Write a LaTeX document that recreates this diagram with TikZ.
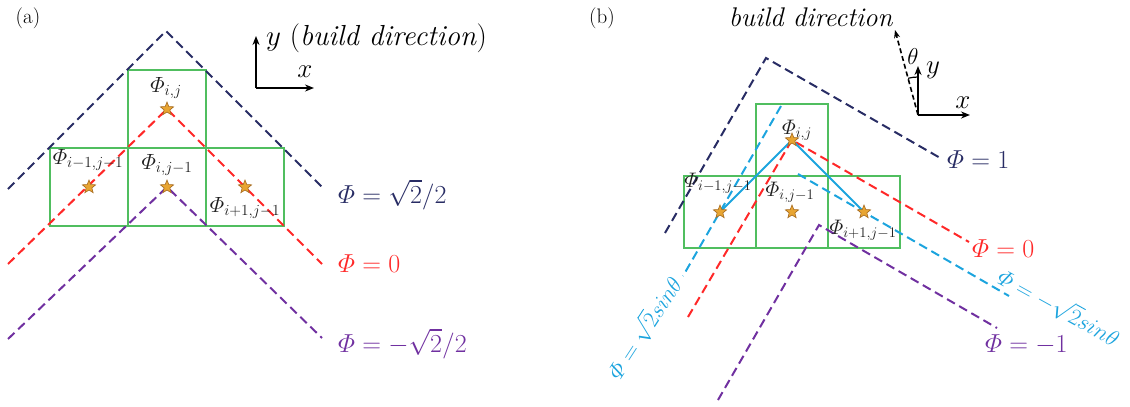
\RequirePackage{fix-cm}
\documentclass[tikz,border=0pt]{standalone}
\usepackage{amsmath}
\usetikzlibrary{shapes.geometric,arrows.meta}
\definecolor{navyc}{RGB}{40,44,100}
\definecolor{redc}{RGB}{255,40,40}
\definecolor{purplec}{RGB}{112,48,160}
\definecolor{bluec}{RGB}{28,164,222}
\definecolor{greenc}{RGB}{80,190,95}
\definecolor{starfill}{RGB}{232,165,50}
\definecolor{stardraw}{RGB}{165,105,30}
\definecolor{labc}{RGB}{30,30,30}
\tikzset{
  lvl/.style={line width=2pt, dash pattern=on 9pt off 5pt},
  cellbox/.style={draw=greenc, line width=1.4pt, minimum size=#1, inner sep=0pt},
  starn/.style={star, star points=5, star point ratio=2.3, minimum size=14pt, inner sep=0pt, fill=starfill, draw=stardraw, line width=0.6pt},
  sublbl/.style={text=labc, font=\fontsize{#1}{#1}\selectfont, inner sep=0pt},
  biglbl/.style={font=\fontsize{26}{26}\selectfont, inner sep=0pt, anchor=base west},
  axisarrow/.style={line width=1.8pt, -{Stealth[length=9pt,width=7pt]}},
  axlbl/.style={font=\fontsize{27}{27}\selectfont, inner sep=0pt},
}
\begin{document}
\begin{tikzpicture}[x=1pt,y=-1pt]
\useasboundingbox (0,0) rectangle (1130,407);

% ================= panel (a) =================
\node[font=\fontsize{21}{21}\selectfont, inner sep=0pt] (tagA) at (28,18) {(a)};

\node[cellbox=78pt] (aT) at (167,109) {};
\node[cellbox=78pt] (aL) at (89,187) {};
\node[cellbox=78pt] (aC) at (167,187) {};
\node[cellbox=78pt] (aR) at (245,187) {};

\coordinate (aNl) at (8,189);
\coordinate (aNa) at (166,31);
\coordinate (aNr) at (322,187);
\coordinate (aRl) at (8,264);
\coordinate (aRr) at (322,264);
\coordinate (aPl) at (8,339);
\coordinate (aPr) at (322,338);

\draw[lvl, navyc] (aNl) -- (aNa) -- (aNr);
\draw[lvl, redc] (aRl) -- (aT.center) -- (aRr);
\draw[lvl, purplec] (aPl) -- (aC.center) -- (aPr);

\node[starn] (saT) at (aT.center) {};
\node[starn] (saL) at (aL.center) {};
\node[starn] (saC) at (aC.center) {};
\node[starn] (saR) at (aR.center) {};

\node[sublbl=22] (laT) at (166,88) {$\varPhi_{i,j}$};
\node[sublbl=22] (laL) at (88,160) {$\varPhi_{i-1,j-1}$};
\node[sublbl=22] (laC) at (167,165) {$\varPhi_{i,j-1}$};
\node[sublbl=22] (laR) at (245,208) {$\varPhi_{i+1,j-1}$};

\node[biglbl, text=navyc] (qaN) at (338,203) {$\varPhi = \sqrt{2}/2$};
\node[biglbl, text=redc] (qaR) at (338,272) {$\varPhi = 0$};
\node[biglbl, text=purplec] (qaP) at (338,352) {$\varPhi = -\sqrt{2}/2$};

\coordinate (aO) at (256,88);
\coordinate (aY) at (256,36);
\coordinate (aX) at (314,88);
\draw[axisarrow] (aO) -- (aY);
\draw[axisarrow] (aO) -- (aX);
\node[font=\fontsize{29}{29}\selectfont, inner sep=0pt, anchor=west] (ayl) at (266,38) {$y$ (\textit{build direction})};
\node[axlbl] (axl) at (305,72) {$x$};

% ================= panel (b) =================
\node[font=\fontsize{21}{21}\selectfont, inner sep=0pt] (tagB) at (602,18) {(b)};

\node[cellbox=72pt] (bT) at (792,140) {};
\node[cellbox=72pt] (bL) at (720,212) {};
\node[cellbox=72pt] (bC) at (792,212) {};
\node[cellbox=72pt] (bR) at (864,212) {};

\coordinate (bNl) at (665,233);
\coordinate (bNa) at (766,58);
\coordinate (bNr) at (942,159);
\coordinate (bRl) at (688,317);
\coordinate (bRr) at (969,242);
\coordinate (bPl) at (718,400);
\coordinate (bPa) at (819,225);
\coordinate (bPr) at (997,328);
\coordinate (bBl1) at (781,106);
\coordinate (bBl2) at (683,276);
\coordinate (bBr1) at (798,174);
\coordinate (bBr2) at (1009,296);

\draw[lvl, navyc] (bNl) -- (bNa) -- (bNr);
\draw[lvl, redc] (bRl) -- (bT.center) -- (bRr);
\draw[lvl, purplec] (bPl) -- (bPa) -- (bPr);
\draw[lvl, bluec] (bBl1) -- (bBl2);
\draw[lvl, bluec] (bBr1) -- (bBr2);
\draw[line width=2pt, bluec] (bL.center) -- (bT.center) -- (bR.center);

\node[starn] (sbT) at (bT.center) {};
\node[starn] (sbL) at (bL.center) {};
\node[starn] (sbC) at (bC.center) {};
\node[starn] (sbR) at (bR.center) {};

\node[sublbl=21] (lbT) at (797,130) {$\varPhi_{i,j}$};
\node[sublbl=21] (lbL) at (718,183) {$\varPhi_{i-1,j-1}$};
\node[sublbl=21] (lbC) at (790,192) {$\varPhi_{i,j-1}$};
\node[sublbl=21] (lbR) at (863,230) {$\varPhi_{i+1,j-1}$};

\node[biglbl, text=navyc] (qbN) at (947,168) {$\varPhi = 1$};
\node[biglbl, text=redc] (qbR) at (972,257) {$\varPhi = 0$};
\node[biglbl, text=purplec] (qbP) at (985,352) {$\varPhi = -1$};
\node[font=\fontsize{23}{23}\selectfont, text=bluec, inner sep=0pt, rotate=57] (qbB1) at (644,328) {$\varPhi = \sqrt{2}sin\theta$};
\node[font=\fontsize{23}{23}\selectfont, text=bluec, inner sep=0pt, rotate=-29] (qbB2) at (1059,307) {$\varPhi = -\sqrt{2}sin\theta$};

\coordinate (bO) at (918,115);
\coordinate (bY) at (918,66);
\coordinate (bX) at (970,115);
\coordinate (bD) at (895,30);
\draw[axisarrow] (bO) -- (bY);
\draw[axisarrow] (bO) -- (bX);
\draw[line width=1.6pt, dash pattern=on 5pt off 3pt, -{Stealth[length=8pt,width=6pt]}] (bO) -- (bD);
\draw[line width=1.2pt] (918,77) arc[start angle=-90, end angle=-105, radius=38];
\node[axlbl] (byl) at (933,70) {$y$};
\node[axlbl] (bxl) at (963,103) {$x$};
\node[font=\fontsize{23}{23}\selectfont, inner sep=0pt] (bth) at (913,57) {$\theta$};
\node[axlbl] (bdl) at (811,17) {\textit{build direction}};
\end{tikzpicture}
\end{document}
